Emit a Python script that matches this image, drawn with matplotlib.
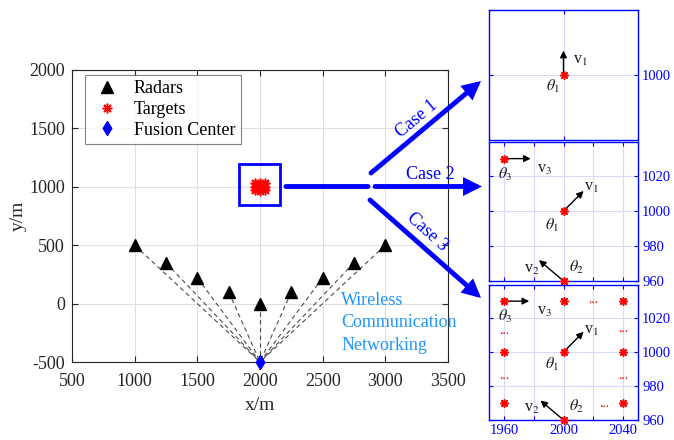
import numpy as np
import matplotlib
matplotlib.use("Agg")
import matplotlib.pyplot as plt
from matplotlib.patches import Rectangle, FancyArrowPatch
from matplotlib.path import Path

plt.rcParams['font.family'] = ['Liberation Serif', 'DejaVu Serif']
plt.rcParams['mathtext.fontset'] = 'stix'
plt.rcParams['axes.unicode_minus'] = False

# ---------------- data ----------------
radar_x = [1000, 1250, 1500, 1750, 2000, 2250, 2500, 2750, 3000]
radar_y = [500, 350, 220, 100, 0, 100, 220, 350, 500]
fusion_x = [2000]
fusion_y = [-500]

# Case 1
c1_tx = [2000]
c1_ty = [1000]
c1_vx = [2000]
c1_vy = [1015]

# Case 2 (theta1, theta2, theta3)
c2_tx = [2000, 2000, 1960]
c2_ty = [1000, 960, 1030]
c2_vx = [2013.5, 1983.5, 1978]
c2_vy = [1011.5, 972, 1030]

# Case 3
c3_tx = [1960, 2000, 2040, 1960, 2000, 2040, 1960, 2040, 2000]
c3_ty = [1030, 1030, 1030, 1000, 1000, 1000, 970, 970, 960]
c3_vx = [2013.5, 1984.5, 1977]
c3_vy = [1012, 971.5, 1030]
c3_dots_x = [2020, 1960, 1960, 2040, 2040, 2027]
c3_dots_y = [1031, 1013, 986, 1014, 986, 970]

main_ticks = [500, 1000, 1500, 2000, 2500, 3000, 3500]
main_yticks = [-500, 0, 500, 1000, 1500, 2000]

W, H = 674, 440
fig = plt.figure(figsize=(W / 100, H / 100), dpi=100)

def px_axes(l, t, r, b):
    return fig.add_axes([l / W, 1 - b / H, (r - l) / W, (b - t) / H])

AXC = '0.15'
star = (8, 2, 0)
diamond = Path([(0, 1), (0.62, 0), (0, -1), (-0.62, 0), (0, 1)],
               [Path.MOVETO, Path.LINETO, Path.LINETO, Path.LINETO, Path.CLOSEPOLY])

# ---------------- main axes ----------------
ax = px_axes(72, 70, 448, 362)
ax.set_xlim(500, 3500)
ax.set_ylim(-500, 2000)
ax.set_xticks(main_ticks)
ax.set_yticks(main_yticks)
ax.grid(True, color='0.88', lw=0.8)
ax.set_axisbelow(True)
ax.tick_params(direction='in', top=True, right=True, length=4, labelsize=13, colors=AXC, pad=5)
ax.tick_params(axis='x', pad=8)
for s in ax.spines.values():
    s.set_color(AXC)
    s.set_linewidth(0.8)
ax.set_xlabel('x/m', fontsize=14, color=AXC, labelpad=5)
ax.set_ylabel('y/m', fontsize=14, color=AXC, labelpad=2)

for rx, ry in zip(radar_x, radar_y):
    ax.plot([rx, fusion_x[0]], [ry, fusion_y[0]], ls=(0, (4, 3)), color='0.3', lw=0.8)
ax.plot(radar_x, radar_y, '^', color='k', ms=8, label='Radars', clip_on=False)
ax.plot(c3_tx, c3_ty, ls='none', marker=star, color='red', ms=7, mew=1.1, label='Targets')
ax.plot(fusion_x, fusion_y, ls='none', marker=diamond, color='blue', ms=10, label='Fusion Center',
        clip_on=False, zorder=5)
ax.add_patch(Rectangle((1830, 840), 330, 355, fill=False, ec='blue', lw=2, zorder=4))

leg = ax.legend(loc='upper left', bbox_to_anchor=(0.035, 0.983), borderaxespad=0,
                fontsize=13, frameon=True, fancybox=False, edgecolor='0.4',
                handlelength=1.8, handletextpad=0.6, labelspacing=0.2, borderpad=0.3)
leg.get_frame().set_linewidth(0.8)

ax.text(2650, -165, 'Wireless\nCommunication\nNetworking', color='#1E96FF', fontsize=13,
        ha='left', va='center', linespacing=1.4)

# ---------------- big blue arrows (figure pixels) ----------------
def fig_arrow(x0, y0, x1, y1, head=True):
    style = '-|>' if head else '-'
    a = FancyArrowPatch((x0 / W, 1 - y0 / H), (x1 / W, 1 - y1 / H), transform=fig.transFigure,
                        arrowstyle=style, mutation_scale=20, color='blue', lw=3.5,
                        shrinkA=0, shrinkB=0, capstyle='round', joinstyle='miter')
    fig.add_artist(a)

fig_arrow(286, 186.5, 368, 186.5, head=False)
fig_arrow(375, 186.5, 482, 186.5)
fig_arrow(371, 173, 481, 81)
fig_arrow(370, 200, 481, 298)

fig.text(417 / W, 1 - 119 / H, 'Case 1', color='blue', fontsize=13, rotation=40,
         ha='center', va='center', rotation_mode='anchor')
fig.text(430 / W, 1 - 174 / H, 'Case 2', color='blue', fontsize=13,
         ha='center', va='center')
fig.text(427 / W, 1 - 232 / H, 'Case 3', color='blue', fontsize=13, rotation=-42,
         ha='center', va='center', rotation_mode='anchor')

# ---------------- right panels ----------------
def style_panel(a, xt, yt, xlab, ylab):
    a.set_xlim(1950, 2050)
    a.set_xticks(xt)
    a.set_yticks(yt)
    a.set_xticklabels(xlab)
    a.set_yticklabels(ylab)
    a.yaxis.tick_right()
    a.tick_params(direction='in', top=True, bottom=True, left=True, right=True,
                  length=3, labelsize=10.5, colors='blue', pad=3)
    a.tick_params(axis='y', labelright=True, labelleft=False)
    a.grid(True, color=(0.85, 0.85, 1.0), lw=0.8)
    a.set_axisbelow(True)
    for s in a.spines.values():
        s.set_color('blue')
        s.set_linewidth(1.0)

def varrow(a, x0, y0, x1, y1):
    a.annotate('', xy=(x1, y1), xytext=(x0, y0),
               arrowprops=dict(arrowstyle='-|>', color='k', lw=1.0, mutation_scale=10,
                               shrinkA=0, shrinkB=0))

lab_kw = dict(fontsize=11.5, color='0.1', ha='center', va='center')

# Case 1
a1 = px_axes(489, 10, 638, 140)
a1.set_ylim(960, 1040)
style_panel(a1, [2000], [1000], [''], ['1000'])
varrow(a1, c1_tx[0], c1_ty[0], c1_vx[0], c1_vy[0])
a1.plot(c1_tx, c1_ty, ls='none', marker=star, color='red', ms=6, mew=1.1, zorder=5)
a1.text(2011, 1009, r'v$_1$', **lab_kw)
a1.text(1993, 993, r'$\theta_1$', **lab_kw)

# Case 2
a2 = px_axes(489, 142, 638, 281)
a2.set_ylim(960, 1039.5)
style_panel(a2, [1960, 1980, 2000, 2020, 2040], [960, 980, 1000, 1020],
            ['', '', '', '', ''], ['960', '980', '1000', '1020'])
for i in range(3):
    varrow(a2, c2_tx[i], c2_ty[i], c2_vx[i], c2_vy[i])
a2.plot(c2_tx, c2_ty, ls='none', marker=star, color='red', ms=6, mew=1.1, zorder=5, clip_on=False)
a2.text(2019, 1014, r'v$_1$', **lab_kw)
a2.text(1992.5, 992, r'$\theta_1$', **lab_kw)
a2.text(1978.5, 967, r'v$_2$', **lab_kw)
a2.text(2009, 968, r'$\theta_2$', **lab_kw)
a2.text(1987, 1024, r'v$_3$', **lab_kw)
a2.text(1961, 1021, r'$\theta_3$', **lab_kw)

# Case 3
a3 = px_axes(489, 285, 638, 420)
a3.set_ylim(960, 1039.5)
style_panel(a3, [1960, 1980, 2000, 2020, 2040], [960, 980, 1000, 1020],
            ['1960', '', '2000', '', '2040'], ['960', '980', '1000', '1020'])
for i in range(3):
    varrow(a3, c2_tx[i], c2_ty[i], c3_vx[i], c3_vy[i])
a3.plot(c3_tx, c3_ty, ls='none', marker=star, color='red', ms=6, mew=1.1, zorder=5, clip_on=False)
for dx, dy in zip(c3_dots_x, c3_dots_y):
    a3.text(dx, dy, '...', color='red', fontsize=10, ha='center', va='center')
a3.text(2019, 1013, r'v$_1$', **lab_kw)
a3.text(1992.5, 992.5, r'$\theta_1$', **lab_kw)
a3.text(1978.5, 967, r'v$_2$', **lab_kw)
a3.text(2009, 968, r'$\theta_2$', **lab_kw)
a3.text(1987, 1024, r'v$_3$', **lab_kw)
a3.text(1961, 1021, r'$\theta_3$', **lab_kw)

fig.savefig('out.png', dpi=100)
